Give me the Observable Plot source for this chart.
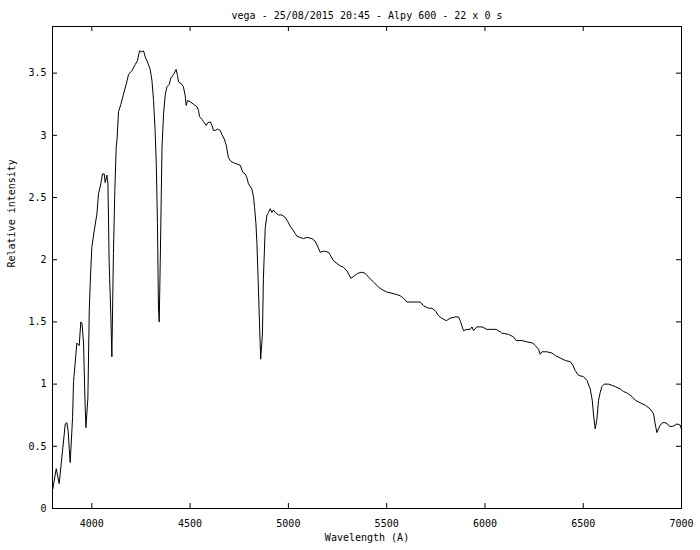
<!DOCTYPE html>
<html>
<head>
<meta charset="utf-8">
<script src="https://cdn.jsdelivr.net/npm/d3@7"></script>
<script src="https://cdn.jsdelivr.net/npm/@observablehq/plot@0.6"></script>
<style>
  html, body { margin: 0; padding: 0; background: #fff; }
  #chart svg { display: block; }
</style>
</head>
<body>
<div id="chart"></div>
<script>
const title = "vega - 25/08/2015 20:45 - Alpy 600 - 22 x 0 s";
const xLabel = "Wavelength (A)";
const yLabel = "Relative intensity";
const xTicks = [4000, 4500, 5000, 5500, 6000, 6500, 7000];
const yTicks = [0, 0.5, 1, 1.5, 2, 2.5, 3, 3.5];

const wavelength = [
  3802, 3819, 3834, 3865, 3873, 3880, 3885, 3890, 3902, 3907, 3924, 3936, 3944, 3950, 3958, 3965, 3970, 3980, 3987, 3992,
  4000, 4012, 4026, 4034, 4046, 4054, 4063, 4068, 4077, 4082, 4085, 4088, 4097, 4102, 4110, 4117, 4124, 4128, 4136, 4148,
  4161, 4175, 4187, 4204, 4221, 4232, 4243, 4255, 4263, 4272, 4283, 4297, 4306, 4314, 4322, 4328, 4334, 4339, 4343, 4348,
  4357, 4365, 4373, 4382, 4394, 4402, 4416, 4429, 4436, 4441, 4458, 4466, 4475, 4480, 4487, 4501, 4517, 4535, 4543, 4548,
  4560, 4568, 4582, 4589, 4602, 4611, 4619, 4628, 4639, 4653, 4661, 4674, 4684, 4695, 4708, 4721, 4738, 4755, 4769, 4780,
  4789, 4797, 4814, 4823, 4828, 4835, 4840, 4848, 4853, 4859, 4868, 4873, 4882, 4891, 4899, 4908, 4916, 4924, 4933, 4950,
  4967, 4984, 4996, 5009, 5023, 5035, 5043, 5057, 5077, 5094, 5120, 5136, 5148, 5162, 5182, 5204, 5216, 5230, 5247, 5264,
  5280, 5298, 5318, 5335, 5352, 5374, 5391, 5408, 5433, 5459, 5476, 5501, 5527, 5552, 5569, 5586, 5603, 5628, 5654, 5671,
  5688, 5713, 5730, 5747, 5764, 5781, 5803, 5823, 5849, 5866, 5874, 5891, 5908, 5925, 5934, 5942, 5959, 5985, 6010, 6035,
  6057, 6078, 6086, 6120, 6145, 6159, 6188, 6213, 6244, 6256, 6273, 6281, 6290, 6315, 6341, 6358, 6383, 6409, 6434, 6448,
  6459, 6476, 6501, 6519, 6536, 6546, 6552, 6561, 6569, 6578, 6586, 6595, 6607, 6629, 6646, 6663, 6689, 6705, 6722, 6748,
  6765, 6790, 6816, 6841, 6858, 6866, 6875, 6891, 6905, 6917, 6929, 6939, 6956, 6977, 6994, 6999
];
const intensity = [
  0.16, 0.32, 0.20, 0.68, 0.69, 0.62, 0.48, 0.37, 0.73, 1.02, 1.33, 1.31, 1.50, 1.49, 1.33, 0.88, 0.65, 0.89, 1.59, 1.82,
  2.10, 2.23, 2.37, 2.53, 2.61, 2.69, 2.69, 2.62, 2.68, 2.61, 2.32, 1.99, 1.54, 1.22, 2.05, 2.55, 2.90, 2.96, 3.19, 3.25,
  3.33, 3.41, 3.49, 3.52, 3.57, 3.60, 3.68, 3.67, 3.68, 3.63, 3.59, 3.53, 3.44, 3.28, 3.04, 2.77, 2.29, 1.62, 1.50, 1.97,
  2.90, 3.17, 3.32, 3.39, 3.41, 3.46, 3.49, 3.53, 3.48, 3.43, 3.41, 3.39, 3.32, 3.24, 3.28, 3.27, 3.25, 3.23, 3.20, 3.15,
  3.13, 3.11, 3.08, 3.10, 3.11, 3.08, 3.04, 3.04, 3.05, 3.04, 3.01, 2.97, 2.92, 2.82, 2.79, 2.78, 2.77, 2.76, 2.70, 2.69,
  2.66, 2.61, 2.57, 2.50, 2.42, 2.29, 2.13, 1.75, 1.50, 1.20, 1.40, 1.85, 2.25, 2.36, 2.38, 2.41, 2.38, 2.40, 2.38, 2.36,
  2.36, 2.34, 2.31, 2.27, 2.24, 2.21, 2.19, 2.18, 2.17, 2.18, 2.17, 2.15, 2.11, 2.06, 2.07, 2.06, 2.03, 1.99, 1.97, 1.95,
  1.94, 1.91, 1.85, 1.87, 1.89, 1.90, 1.89, 1.86, 1.82, 1.78, 1.76, 1.74, 1.73, 1.72, 1.71, 1.69, 1.66, 1.66, 1.66, 1.66,
  1.63, 1.61, 1.61, 1.59, 1.55, 1.53, 1.51, 1.53, 1.54, 1.54, 1.51, 1.43, 1.44, 1.44, 1.46, 1.43, 1.46, 1.46, 1.44, 1.44,
  1.44, 1.42, 1.41, 1.40, 1.38, 1.35, 1.35, 1.34, 1.33, 1.31, 1.28, 1.24, 1.26, 1.26, 1.25, 1.23, 1.21, 1.19, 1.18, 1.15,
  1.11, 1.07, 1.06, 1.03, 0.96, 0.87, 0.76, 0.64, 0.71, 0.87, 0.93, 0.98, 1.00, 1.00, 0.99, 0.98, 0.96, 0.94, 0.93, 0.90,
  0.87, 0.85, 0.83, 0.80, 0.76, 0.68, 0.61, 0.67, 0.69, 0.69, 0.68, 0.66, 0.66, 0.68, 0.67, 0.64
];

const spectrum = wavelength.map((w, i) => ({w, v: intensity[i]}));

const W = 700, H = 550;
const mL = 52, mR = 19, mT = 26, mB = 42;
const innerW = W - mL - mR, innerH = H - mT - mB;
const tickLen = 5;

const chart = Plot.plot({
  width: W,
  height: H,
  marginLeft: mL,
  marginRight: mR,
  marginTop: mT,
  marginBottom: mB,
  style: {fontFamily: "'DejaVu Sans Mono', monospace", fontSize: "10px", color: "#000", background: "#fff"},
  x: {domain: [3800, 7000]},
  y: {domain: [0, 3.875]},
  marks: [
    Plot.tickX(xTicks, {x: d => d, stroke: "#000", insetTop: innerH - tickLen}),
    Plot.tickX(xTicks, {x: d => d, stroke: "#000", insetBottom: innerH - tickLen}),
    Plot.tickY(yTicks, {y: d => d, stroke: "#000", insetRight: innerW - tickLen}),
    Plot.tickY(yTicks, {y: d => d, stroke: "#000", insetLeft: innerW - tickLen}),
    Plot.axisX({ticks: xTicks, tickSize: 0, tickPadding: 11, label: null, tickFormat: d => String(d)}),
    Plot.axisY({ticks: yTicks, tickSize: 0, tickPadding: 6, label: null, tickFormat: d => String(d)}),
    Plot.line(spectrum, {x: "w", y: "v", stroke: "#000", strokeWidth: 1}),
    Plot.frame({stroke: "#000", strokeWidth: 1}),
    Plot.text([title], {frameAnchor: "top", dy: -15, text: d => d, fill: "#000"}),
    Plot.text([xLabel], {frameAnchor: "bottom", dy: 32, text: d => d, fill: "#000"}),
    Plot.text([yLabel], {frameAnchor: "left", dx: -41, rotate: -90, text: d => d, fill: "#000"})
  ]
});
document.getElementById("chart").appendChild(chart);
</script>
</body>
</html>
